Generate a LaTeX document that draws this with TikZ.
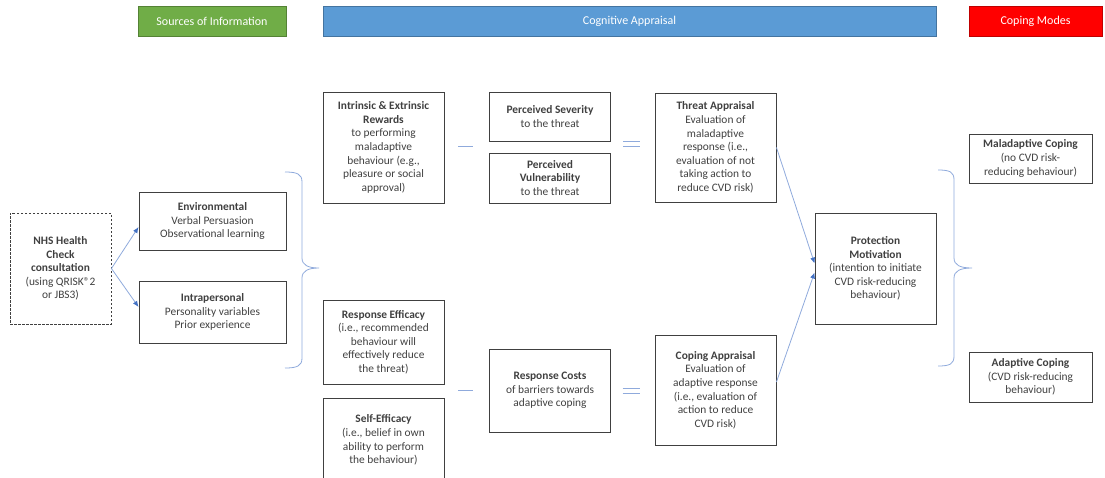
\documentclass[tikz,border=0pt]{standalone}
\usepackage{fontspec}
\setmainfont{Carlito}
\usepackage{tikz}
\usetikzlibrary{arrows.meta,calc}
\definecolor{framegray}{RGB}{64,64,64}
\definecolor{textgray}{RGB}{64,64,64}
\definecolor{linkblue}{RGB}{143,170,220}
\definecolor{tipblue}{RGB}{68,114,196}
\definecolor{sourcegreen}{RGB}{112,173,71}
\definecolor{appraisalblue}{RGB}{91,155,213}
\definecolor{copingred}{RGB}{255,0,0}

\begin{document}
\begin{tikzpicture}[x=1pt,y=-1pt,
    box/.style={draw=framegray, line width=0.9pt, align=center, text=textgray, inner sep=2pt, font=\fontsize{11.4}{13.6}\selectfont},
    header/.style={minimum height=30pt, text=white, line width=0.6pt, font=\fontsize{12}{14}\selectfont},
    link/.style={draw=linkblue, line width=0.8pt},
    flow/.style={link, -{Latex[length=6pt,width=5pt,color=tipblue]}}]
    \useasboundingbox (0,0) rectangle (1105,477);

    % column headers
    \node[header, fill=sourcegreen, draw=sourcegreen!75!black, minimum width=148pt] (hsources) at (212,21) {Sources of Information};
    \node[header, fill=appraisalblue, draw=appraisalblue!75!black, minimum width=613pt] (happraisal) at (629.5,21) {Cognitive Appraisal};
    \node[header, fill=copingred, draw=copingred!75!black, minimum width=133pt] (hcoping) at (1035.5,21) {Coping Modes};

    % sources of information
    \node[box, dash pattern=on 2.5pt off 1.5pt, minimum width=101pt, minimum height=111pt] (nhs) at (60.5,268.5) {\textbf{NHS Health}\\\textbf{Check}\\\textbf{consultation}\\(using QRISK®2\\or JBS3)};
    \node[box, minimum width=147pt, minimum height=58pt] (env) at (212.5,221) {\textbf{Environmental}\\Verbal Persuasion\\Observational learning};
    \node[box, minimum width=147pt, minimum height=62pt] (intra) at (212.5,312) {\textbf{Intrapersonal}\\Personality variables\\Prior experience};

    % cognitive appraisal
    \node[box, minimum width=121pt, minimum height=111pt] (rewards) at (383.5,147.5) {\textbf{Intrinsic \& Extrinsic}\\\textbf{Rewards}\\to performing\\maladaptive\\behaviour (e.g.,\\pleasure or social\\approval)};
    \node[box, minimum width=121pt, minimum height=49pt] (severity) at (550,116.5) {\textbf{Perceived Severity}\\to the threat};
    \node[box, minimum width=121pt, minimum height=50pt] (vulner) at (550,178) {\textbf{Perceived}\\\textbf{Vulnerability}\\to the threat};
    \node[box, minimum width=121pt, minimum height=109pt] (threat) at (715.5,147.5) {\textbf{Threat Appraisal}\\Evaluation of\\maladaptive\\response (i.e.,\\evaluation of not\\taking action to\\reduce CVD risk)};
    \node[box, minimum width=121pt, minimum height=84pt] (efficacy) at (383.5,342) {\textbf{Response Efficacy}\\(i.e., recommended\\behaviour will\\effectively reduce\\the threat)};
    \node[box, minimum width=121pt, minimum height=84pt] (selfeff) at (383.5,440) {\textbf{Self-Efficacy}\\(i.e., belief in own\\ability to perform\\the behaviour)};
    \node[box, minimum width=121pt, minimum height=83pt] (costs) at (550,390.5) {\textbf{Response Costs}\\of barriers towards\\adaptive coping};
    \node[box, minimum width=121pt, minimum height=110pt] (copapp) at (715.5,390) {\textbf{Coping Appraisal}\\Evaluation of\\adaptive response\\(i.e., evaluation of\\action to reduce\\CVD risk)};
    \node[box, minimum width=121pt, minimum height=111pt] (motiv) at (875.5,268.5) {\textbf{Protection}\\\textbf{Motivation}\\(intention to initiate\\CVD risk-reducing\\behaviour)};

    % coping modes
    \node[box, minimum width=123pt, minimum height=49pt] (maladapt) at (1030.5,158.5) {\textbf{Maladaptive Coping}\\(no CVD risk-\\reducing behaviour)};
    \node[box, minimum width=123pt, minimum height=50pt] (adapt) at (1030.5,377) {\textbf{Adaptive Coping}\\(CVD risk-reducing\\behaviour)};

    % arrows
    \draw[flow] (nhs.east) -- ([yshift=-6pt]env.west);
    \draw[flow] (nhs.east) -- ([yshift=5pt]intra.west);
    \draw[flow] (threat.east) -- ([yshift=5pt]motiv.west);
    \draw[flow] ([yshift=8pt]copapp.east) -- ([yshift=-4pt]motiv.west);

    % minus and equals signs
    \coordinate (minusup) at (465.5,146);
    \coordinate (equalup) at (631.5,143.5);
    \coordinate (minuslow) at (465.5,390);
    \coordinate (equallow) at (631,390.5);
    \draw[link] ([xshift=-7.5pt]minusup) -- ([xshift=7.5pt]minusup);
    \draw[link] ([xshift=-8.5pt,yshift=2.5pt]equalup) -- ([xshift=8.5pt,yshift=2.5pt]equalup);
    \draw[link] ([xshift=-8.5pt,yshift=-2.5pt]equalup) -- ([xshift=8.5pt,yshift=-2.5pt]equalup);
    \draw[link] ([xshift=-7.5pt]minuslow) -- ([xshift=7.5pt]minuslow);
    \draw[link] ([xshift=-8.5pt,yshift=2.5pt]equallow) -- ([xshift=8.5pt,yshift=2.5pt]equallow);
    \draw[link] ([xshift=-8.5pt,yshift=-2.5pt]equallow) -- ([xshift=8.5pt,yshift=-2.5pt]equallow);

    % braces
    \draw[link] (285,172) .. controls (297,172) and (302,174) .. (302,182) -- (302,258)
        .. controls (302,265) and (308,268) .. (319,268)
        .. controls (308,268) and (302,271) .. (302,278) -- (302,358)
        .. controls (302,366) and (297,368) .. (285,368);
    \draw[link] (938,170) .. controls (950,170) and (954,172) .. (954,180) -- (954,258)
        .. controls (954,265) and (960,268) .. (972,268)
        .. controls (960,268) and (954,271) .. (954,278) -- (954,356)
        .. controls (954,364) and (950,366) .. (938,366);
\end{tikzpicture}
\end{document}
